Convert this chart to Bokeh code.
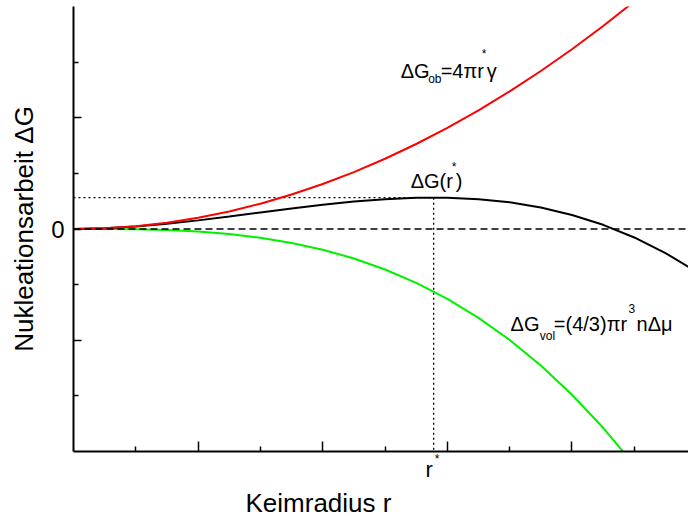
from bokeh.plotting import figure
from bokeh.models import (Range1d, FixedTicker, CustomJSTickFormatter, Label, Span,
                          LinearAxis, Title)
from bokeh.embed import file_html
from bokeh.resources import INLINE

# Nucleation work versus nucleus radius (arbitrary units)
r = [0, 0.5, 1, 1.5, 2, 2.5, 3, 3.5, 4, 4.5, 5, 5.5, 6, 6.5, 7, 7.5, 8, 8.5, 9, 9.5, 10]
dG_ob = [0, 0.013, 0.051, 0.114, 0.202, 0.316, 0.455, 0.619, 0.808, 1.023, 1.263,
         1.528, 1.818, 2.134, 2.475, 2.841, 3.232, 3.649, 4.091, 4.558, 5.05]
dG_vol = [0, -0.001, -0.006, -0.020, -0.047, -0.091, -0.157, -0.250, -0.372, -0.530, -0.728,
          -0.968, -1.257, -1.598, -1.996, -2.455, -2.980, -3.574, -4.243, -4.990, -5.82]
dG = [0, 0.012, 0.045, 0.094, 0.155, 0.225, 0.298, 0.369, 0.436, 0.493, 0.535,
      0.560, 0.561, 0.536, 0.479, 0.386, 0.252, 0.075, -0.152, -0.432, -0.77]

r_star = 5.78      # critical radius
dG_star = 0.563    # barrier height at r*

x_major = [2, 4, 6, 8]
x_minor = [1, 3, 5, 7, 9]
y_major = [-2, 0, 2]
y_minor = [-3, -1, 1, 3]

X_MIN, X_MAX = 0, 9.87
Y_MIN, Y_MAX = -4, 4

FONT = "Liberation Sans"

p = figure(width=688, height=518, output_backend="svg", toolbar_location=None,
           x_range=Range1d(X_MIN, X_MAX), y_range=Range1d(Y_MIN, Y_MAX),
           min_border_left=73, min_border_right=0, min_border_top=6, min_border_bottom=67)
p.outline_line_color = None
p.xgrid.visible = False
p.ygrid.visible = False
p.background_fill_color = "white"
p.border_fill_color = "white"

for ax in (p.xaxis[0], p.yaxis[0]):
    ax.axis_line_width = 2
    ax.axis_line_color = "black"
    ax.major_tick_line_width = 1.5
    ax.minor_tick_line_width = 1.5
    ax.major_tick_out = 0
    ax.minor_tick_out = 0
    ax.major_label_text_font = FONT
    ax.major_label_text_color = "black"

# x axis: ticks only, the critical radius is labelled below it
p.xaxis.ticker = FixedTicker(ticks=x_major, minor_ticks=x_minor)
p.xaxis.major_tick_in = 10
p.xaxis.minor_tick_in = 5
p.xaxis.major_label_standoff = 0
p.xaxis.major_label_text_font_size = "0px"
p.xaxis.formatter = CustomJSTickFormatter(code="return ''")

# y axis: only the zero level is labelled
p.yaxis.ticker = FixedTicker(ticks=y_major, minor_ticks=y_minor)
p.yaxis.major_tick_in = 8
p.yaxis.minor_tick_in = 5
p.yaxis.major_label_standoff = 9
p.yaxis.major_label_text_font_size = "24px"
p.yaxis.formatter = CustomJSTickFormatter(code="return tick == 0 ? '0' : ''")
p.yaxis.axis_label = "Nukleationsarbeit ΔG"
p.yaxis.axis_label_text_font = FONT
p.yaxis.axis_label_text_font_size = "26px"
p.yaxis.axis_label_text_font_style = "normal"
p.yaxis.axis_label_text_color = "black"
p.yaxis.axis_label_standoff = 9


def label_axis(pos, text, size, standoff):
    """A bare axis that only writes one tick label at `pos`."""
    ax = LinearAxis(ticker=FixedTicker(ticks=[pos], minor_ticks=[]),
                    formatter=CustomJSTickFormatter(code=f"return '{text}'"),
                    axis_line_color=None, major_tick_in=0, major_tick_out=0,
                    minor_tick_in=0, minor_tick_out=0,
                    major_label_standoff=standoff,
                    major_label_text_font=FONT, major_label_text_font_size=f"{size}px",
                    major_label_text_color="black")
    p.add_layout(ax, "below")


# r* tick label: superscript star first (nearest the axis), then the r
label_axis(r_star + 0.056, "*", 12, 0)
label_axis(r_star - 0.072, "r", 22, -12)

p.add_layout(Title(text="Keimradius r", align="left", offset=172, standoff=2,
                   text_font=FONT, text_font_size="26px", text_font_style="normal",
                   text_color="black"), "below")

# reference lines
p.add_layout(Span(location=0, dimension="width", line_color="black",
                  line_width=1.3, line_dash="7 4"))
p.line([X_MIN, r_star], [dG_star, dG_star], line_color="black", line_width=1.3, line_dash="2 3")
p.line([r_star, r_star], [dG_star, Y_MIN], line_color="black", line_width=1.3, line_dash="2 3")

# curves
p.line(r, dG_vol, line_color="#00f000", line_width=2)
p.line(r, dG, line_color="black", line_width=2)
p.line(r, dG_ob, line_color="#ff0000", line_width=2)


def runs(x, y, parts, x0=0, y0=0):
    """Place a row of text pieces; each piece is (text, dx, dy, size) in pixels."""
    for text, dx, dy, size in parts:
        p.add_layout(Label(x=x, y=y, x_offset=x0 + dx, y_offset=y0 + dy, text=text,
                           text_font=FONT, text_font_size=f"{size}px",
                           text_align="left", text_baseline="alphabetic",
                           text_color="black"))


# surface term
runs(5.25, 2.72, [("ΔG", 0, 0, 20), ("ob", 27.5, -8.7, 12), ("=4πr", 40, 0, 20),
                  ("*", 81, 17, 12), ("γ", 86, 0, 20)], y0=7)
# barrier
runs(r_star, dG_star, [("ΔG(r", 0, 0, 20), ("*", 41, 13.5, 12), (")", 45, 0, 20)],
     x0=-23, y0=17)
# volume term
runs(7.014, -1.826, [("ΔG", 0, 0, 20), ("vol", 29.3, -12.7, 12), ("=(4/3)πr", 43.3, 0, 20),
                     ("3", 118, 15, 12), ("nΔμ", 126, 0, 20)], y0=7)

open("out.html", "w").write(file_html(p, INLINE))
